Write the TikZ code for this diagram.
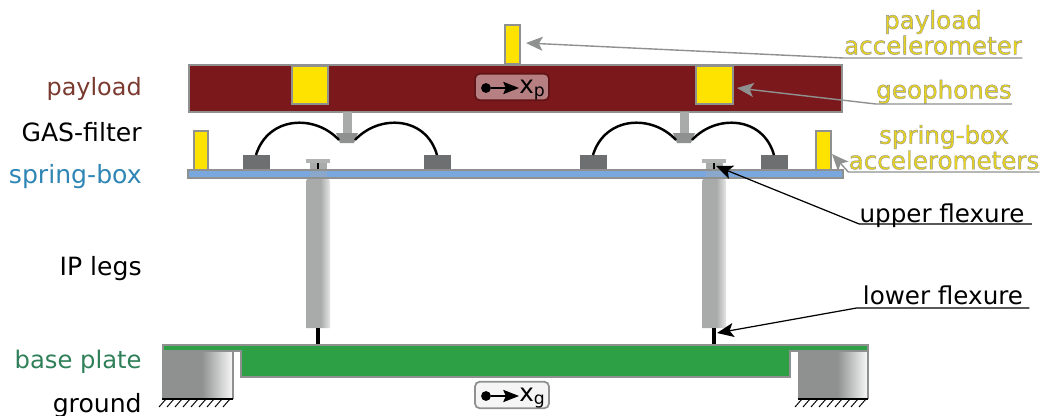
\documentclass[tikz,border=0pt]{standalone}
\usepackage{fontspec}
\setmainfont{DejaVu Sans}
\usetikzlibrary{arrows.meta}
\definecolor{payloadred}{HTML}{7B181B}
\definecolor{payloadtext}{HTML}{7A3A30}
\definecolor{sensoryellow}{HTML}{FFE300}
\definecolor{sensortext}{HTML}{E8D41E}
\definecolor{boxblue}{HTML}{7AA7DE}
\definecolor{boxtext}{HTML}{2F86B5}
\definecolor{plategreen}{HTML}{2DA046}
\definecolor{platetext}{HTML}{2F8059}
\definecolor{edgegray}{HTML}{8F9191}
\definecolor{blockgray}{HTML}{6D6F71}
\definecolor{leggray}{HTML}{A9ABAA}
\pgfdeclarehorizontalshading{legshade}{100bp}{color(0bp)=(leggray); color(55bp)=(leggray); color(75bp)=(white!70!leggray); color(100bp)=(white!70!leggray)}
\pgfdeclarehorizontalshading{groundshade}{100bp}{color(0bp)=(edgegray); color(53bp)=(edgegray); color(75bp)=(white!95!edgegray); color(100bp)=(white!95!edgegray)}
\newcommand{\edgedtext}[1]{\special{pdf:code q 2 Tr 0.22 w 0.56 0.57 0.57 RG}#1\special{pdf:code Q}}
\tikzset{
  partedge/.style={draw=edgegray, line width=1.1pt},
  sensor/.style={partedge, fill=sensoryellow},
  leftlabel/.style={anchor=base east, inner sep=0pt, font=\fontsize{14.3pt}{14.3pt}\selectfont},
  sidelabel/.style={anchor=south, inner sep=0pt, align=center, font=\fontsize{14pt}{14pt}\selectfont},
  graylead/.style={draw=edgegray, line width=0.8pt, -{Stealth[length=9.5pt,width=8pt,inset=2.2pt]}},
  blacklead/.style={draw=black, line width=0.7pt, -{Stealth[length=9.5pt,width=8pt,inset=2.2pt]}},
  readout/.style={rounded corners=2.5pt, line width=1pt, minimum width=42pt, minimum height=15pt, inner sep=0pt},
  readtext/.style={inner sep=0pt, anchor=base west, font=\fontsize{14pt}{14pt}\selectfont}
}
\begin{document}
\begin{tikzpicture}[x=0.02cm,y=-0.02cm]
\useasboundingbox (0,0) rectangle (1042,416);

\draw[sensor] (505,25) rectangle (520,64);
\draw[partedge, fill=payloadred] (189,65) rectangle (842,112);
\draw[sensor] (292,66) rectangle (328,104);
\draw[sensor] (696,66) rectangle (733,104);

\foreach \dx in {0,337}{
  \fill[leggray] (343+\dx,112) rectangle (352+\dx,134);
  \fill[edgegray] (336+\dx,133) -- (358+\dx,133) -- (354+\dx,143) -- (340+\dx,143) -- cycle;
  \fill[blockgray] (243+\dx,155) rectangle (270+\dx,170);
  \fill[blockgray] (424+\dx,155) rectangle (451+\dx,170);
  \draw[line width=1.4pt] (256+\dx,155) .. controls (268+\dx,116) and (315+\dx,114) .. (339+\dx,140);
  \draw[line width=1.4pt] (355+\dx,140) .. controls (379+\dx,114) and (426+\dx,116) .. (437+\dx,155);
}
\draw[sensor] (194,131) rectangle (208,170);
\draw[sensor] (816,131) rectangle (831,170);

\foreach \lx in {318,714}{
  \fill[leggray] (\lx-8,162) rectangle (\lx+9,181);
  \fill[edgegray!70] (\lx-12,159) rectangle (\lx+12,163);
  \fill[black] (\lx-1,163) rectangle (\lx+1,170);
  \shade[shading=legshade] (\lx-12,181) -- (\lx-10,178) -- (\lx+10,178) -- (\lx+12,181) -- (\lx+12,328) -- (\lx-12,328) -- cycle;
  \fill[black] (\lx-2,328) rectangle (\lx+2,345);
}
\draw[partedge, fill=boxblue] (188,170) rectangle (843,178);
\fill[leggray, opacity=0.35] (310,171) rectangle (327,177);
\fill[leggray, opacity=0.35] (706,171) rectangle (723,177);

\shade[shading=groundshade] (162,352) rectangle (233,399);
\shade[shading=groundshade] (798,352) rectangle (868,399);
\draw[edgegray, line width=0.6pt] (233,352) -- (233,399);
\draw[edgegray, line width=0.6pt] (868,352) -- (868,399);
\draw[partedge, fill=plategreen] (163,345) -- (868,345) -- (868,351) -- (790,351) -- (790,377) -- (241,377) -- (241,351) -- (163,351) -- cycle;
\draw[line width=1.4pt] (162,399) -- (233,399);
\draw[line width=1.4pt] (798,399) -- (868,399);
\foreach \hx in {0,...,8}{
  \draw[line width=0.55pt] (166+\hx*8,399) -- (159+\hx*8,407);
  \draw[line width=0.55pt] (802+\hx*8,399) -- (795+\hx*8,407);
}

\node[readout, draw=payloadred!80!black, fill=payloadred!55!white] (xpbox) at (512,87) {};
\node[readout, draw=edgegray, fill=black!4] (xgbox) at (512,395) {};
\node[circle, fill=black, inner sep=0pt, minimum size=5.6pt] (xpdot) at (486,88) {};
\node[circle, fill=black, inner sep=0pt, minimum size=5.6pt] (xgdot) at (486,396) {};
\node[readtext] (xptext) at (519,93) {x\textsubscript{p}};
\node[readtext] (xgtext) at (519,401) {x\textsubscript{g}};
\draw[-{Stealth[length=9pt,width=7pt,inset=1.5pt]}, line width=0.6pt] (xpdot) -- (xptext.west |- xpdot);
\draw[-{Stealth[length=9pt,width=7pt,inset=1.5pt]}, line width=0.6pt] (xgdot) -- (xgtext.west |- xgdot);

\node[leftlabel, text=payloadtext, font=\fontsize{13.6pt}{13.6pt}\selectfont] (payload) at (142,95) {payload};
\node[leftlabel] (gasfilter) at (142,141) {GAS-filter};
\node[leftlabel, text=boxtext] (springbox) at (142,183) {spring-box};
\node[leftlabel] (iplegs) at (142,275) {IP legs};
\node[leftlabel, text=platetext, font=\fontsize{13.8pt}{13.8pt}\selectfont] (baseplate) at (142,368) {base plate};
\node[leftlabel] (ground) at (142,412) {ground};

\node[sidelabel, text=sensortext, inner ysep=1.7pt] (payacc) at (933,58) {\edgedtext{payload}\\[0.5pt]\edgedtext{accelerometer}};
\node[sidelabel, text=sensortext] (geo) at (944,104) {\edgedtext{geophones}};
\node[sidelabel, text=sensortext, inner ysep=1.2pt] (sbacc) at (944,172) {\edgedtext{spring-box}\\[0.5pt]\edgedtext{accelerometers}};
\node[sidelabel] (upper) at (942,227.5) {upper flexure};
\node[sidelabel, inner ysep=1.7pt] (lower) at (943,308) {lower flexure};

\coordinate (payacctip) at (526,43);
\coordinate (geotip) at (737,88);
\coordinate (sbacctip) at (832,154);
\coordinate (uppertip) at (716,166);
\coordinate (lowertip) at (717,333);

\draw[graylead] (payacc.south east) -- (payacc.south west) -- (payacctip);
\draw[graylead] (geo.south east) -- (geo.south west) -- (geotip);
\draw[graylead] (sbacc.south east) -- (sbacc.south west) -- (sbacctip);
\draw[blacklead] ([xshift=4pt,yshift=2pt]upper.south east) -- ([yshift=2pt]upper.south west) -- (uppertip);
\draw[blacklead] ([xshift=3.4pt]lower.south east) -- ([xshift=-3.4pt]lower.south west) -- (lowertip);
\end{tikzpicture}
\end{document}
